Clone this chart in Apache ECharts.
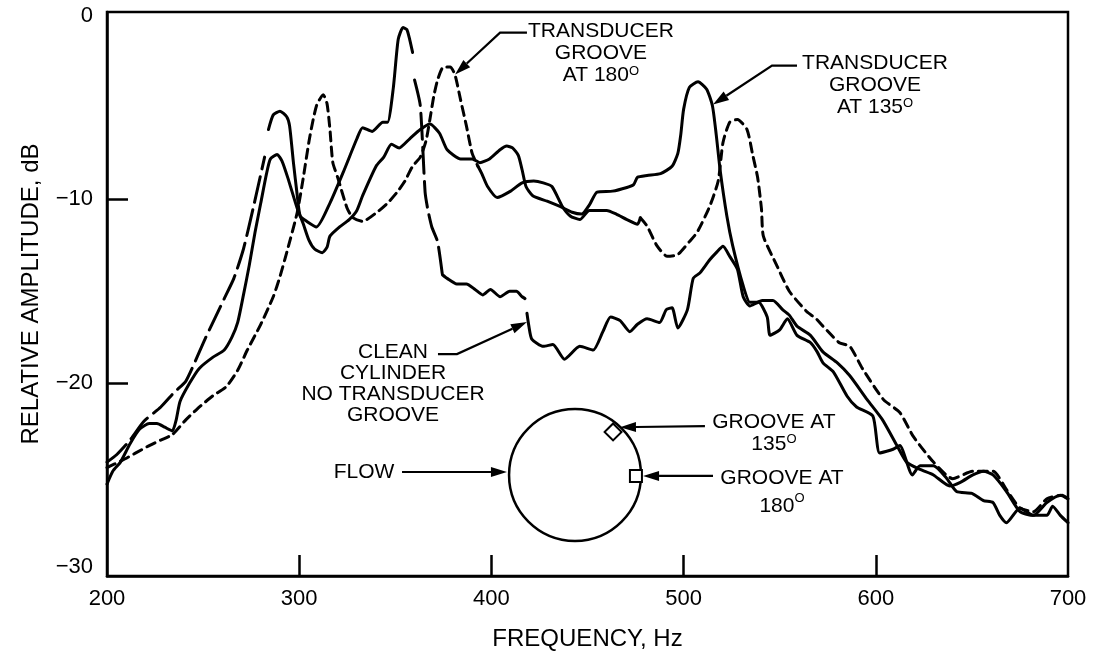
<!DOCTYPE html>
<html><head><meta charset="utf-8">
<script src="https://cdn.jsdelivr.net/npm/echarts@6/dist/echarts.min.js"></script>
<style>html,body{margin:0;padding:0;background:#fff}#c{width:1099px;height:656px}</style>
</head><body><div id="c"></div>
<script>
// ---------------- data ----------------
const xTickLabels = [200, 300, 400, 500, 600, 700];
const yTickLabels = [-30, -20, -10, 0];

// Clean cylinder, no transducer groove
const cleanFreq = [200,205,212,219,228,235,241,251,261,266,271,276,282,284,286.5,290,293.5,295,297,299,300.5,304,309,316,323,330,333,338,343.5,346,349,351.5,354,356,357.5,359,360,363,365.5,367,369,372,374.5,377,382,387,391.5,395.5,399.5,404.5,409.5,413,416,417.5,418.5,419.5,421,427,432,438,446,453,458,462,467,472,476,481,487.5,491,494,497,502,505,508.5,513.5,517,520.5,524,528,531,534.5,539,543.5,545,550,554,559,566,569.5,572.5,578,585,590,598.5,602,609,612.5,619,623,630,637,642,650,656,661,664.5,668,675,682,689,696,700];
const cleanDb   = [-24.3,-23.9,-23.1,-22.1,-21.3,-20.5,-19.9,-17.6,-15.4,-14.3,-12.7,-10.5,-7.7,-6.2,-5.4,-5.2,-5.5,-6.0,-8.0,-9.8,-10.9,-11.2,-11.5,-10.2,-8.5,-6.7,-6.1,-6.3,-5.8,-5.8,-3.9,-1.3,-0.65,-0.75,-1.3,-2.0,-3.5,-4.9,-9.6,-10.6,-11.5,-12.3,-14.1,-14.3,-14.6,-14.6,-14.9,-15.2,-14.9,-15.3,-15.0,-15.0,-15.3,-15.4,-16.2,-16.9,-17.6,-18.0,-17.9,-18.7,-18.0,-18.2,-17.2,-16.4,-16.6,-17.2,-16.8,-16.5,-16.7,-16.0,-15.9,-17.0,-16.0,-14.3,-14.0,-13.3,-12.9,-12.55,-13.1,-13.8,-15.3,-15.8,-15.6,-16.4,-17.4,-17.1,-16.5,-17.4,-17.8,-18.3,-18.9,-19.4,-20.7,-21.3,-21.8,-23.8,-23.6,-23.4,-25.0,-24.5,-24.5,-25.2,-25.9,-26.0,-26.4,-26.5,-27.2,-27.6,-26.8,-27.2,-26.5,-26.1,-26.3];

// Transducer groove at 135 deg (solid)
const g135Freq = [200,203,207,212,217,222,226,230,234,236,238,243,248,255,261,265,268,271,274,277,280,283,285,288.5,291,294,299,302,305,308,312,314.5,316,321,326,330,333,340,344,348,352,357.5,363,368,373,377,384,390,394,399,404.5,408,411,414,416,418,421.5,429,436,442,447,451,455,463,470.5,474,476,481,488,494,497,498.5,500,503,507.5,512,515,517,519,522.5,525.5,531,534.5,538,541,546.5,551.5,555,559,566,572.5,580,586.5,595.5,603.5,611,616,623,630,638.5,644,650.5,656,661,668,675,682,689,692,696,700];
const g135Db   = [-25.5,-24.8,-24.3,-23.3,-22.5,-22.2,-22.2,-22.4,-22.6,-22.0,-21.0,-20.0,-19.2,-18.6,-18.2,-17.5,-16.7,-15.2,-13.6,-11.8,-10.2,-8.6,-7.8,-7.55,-7.9,-8.8,-10.5,-11.3,-12.2,-12.7,-12.9,-12.6,-12.0,-11.5,-11.1,-10.6,-9.8,-8.2,-7.7,-7.0,-7.2,-6.7,-6.2,-5.9,-6.4,-7.3,-7.8,-7.8,-8.0,-7.8,-7.3,-7.1,-7.2,-7.6,-8.4,-9.3,-9.8,-10.1,-10.4,-10.7,-10.8,-10.3,-9.6,-9.55,-9.35,-9.2,-8.8,-8.7,-8.6,-8.2,-7.5,-6.5,-5.1,-3.9,-3.6,-4.0,-4.9,-6.5,-8.4,-10.9,-12.5,-14.7,-15.6,-15.6,-15.5,-15.5,-16.0,-16.3,-16.9,-17.4,-18.3,-18.9,-19.6,-20.9,-22.0,-23.4,-24.3,-24.7,-25.0,-25.6,-25.4,-25.0,-24.8,-25.0,-25.9,-27.0,-27.2,-27.2,-26.7,-27.2,-27.6];

// Transducer groove at 180 deg (short dash)
const g180Freq = [200,204,208,215,222,228,234,241,247,255,262,268,273,280,286.5,290,293.5,299,302,305.5,309,312.5,314.5,316,317.5,320,325,328,333,340.5,346,351,355,359,363,366,368,370,372,375,378.5,381,384,387,390,393,395,398,403,410,416,422,427,431.5,437,441,446,451,460,465,470.5,476,477.5,481,486,491.5,497,503,507,513.5,518,520.5,524,528,533,536,538.5,540.5,541.5,548.5,555,564,569,572.5,581,586.5,593,604,612.5,619.5,630,640,650.5,661,668,675,682,689,697,700];
const g180Db   = [-24.6,-24.4,-24.2,-23.8,-23.4,-23.1,-22.8,-22.0,-21.4,-20.7,-20.2,-19.3,-18.2,-16.8,-15.3,-14.2,-12.9,-10.7,-8.9,-6.6,-4.9,-4.3,-4.8,-6.2,-8.0,-8.8,-10.5,-11.0,-11.2,-10.7,-10.2,-9.6,-9.0,-8.2,-7.7,-6.8,-5.65,-4.4,-3.5,-2.8,-2.8,-3.2,-4.6,-6.0,-7.5,-8.2,-8.6,-9.3,-9.9,-9.55,-9.1,-9.0,-9.1,-9.3,-10.4,-10.9,-11.1,-10.6,-10.6,-10.8,-11.1,-11.35,-11.0,-11.45,-12.5,-13.1,-13.0,-12.3,-11.8,-10.4,-9.0,-6.9,-5.8,-5.65,-6.2,-7.6,-8.8,-10.5,-12.0,-13.6,-15.0,-16.1,-16.5,-16.9,-17.8,-18.0,-19.2,-20.9,-21.6,-22.9,-24.3,-25.2,-24.8,-24.8,-25.8,-26.8,-27.0,-26.3,-26.1,-26.3];

// ---------------- chart ----------------
const FONT = '"Liberation Sans", Arial, Helvetica, sans-serif';
const LONG = [26, 8], SHORT = [9, 6];
const curves = [
  {f: cleanFreq, d: cleanDb, parts: [[200,283,LONG],[283,359.5,'solid'],[359.5,374.5,LONG],[374.5,417.5,'solid'],[418.5,700,'solid']]},
  {f: g135Freq, d: g135Db, parts: [[200,700,'solid']]},
  {f: g180Freq, d: g180Db, parts: [[200,393,SHORT],[393,477.5,'solid'],[477.5,700,SHORT]]}
];
const series = [];
curves.forEach(c => {
  const pts = c.f.map((x, i) => [x, c.d[i]]);
  c.parts.forEach(([a, b, t]) => {
    series.push({
      type: 'line', data: pts.filter(p => p[0] >= a && p[0] <= b),
      showSymbol: false, smooth: 0.2, silent: true,
      lineStyle: {color: '#000', width: 3, type: t, cap: 'round', join: 'round'}
    });
  });
});

const chart = echarts.init(document.getElementById('c'));
const axisText = {color: '#000', fontSize: 22, fontFamily: FONT};
chart.setOption({
  animation: false,
  backgroundColor: '#fff',
  grid: {left: 107, right: 31, top: 12, bottom: 79, show: true, borderColor: '#000', borderWidth: 2.5},
  xAxis: {
    type: 'value', min: 200, max: 700,
    axisLine: {show: true, onZero: false, lineStyle: {color: '#000', width: 2.5}},
    axisTick: {show: true, inside: true, length: 21, customValues: [300, 400, 500, 600], lineStyle: {color: '#000', width: 2.5}},
    axisLabel: Object.assign({customValues: xTickLabels, margin: 12, showMinLabel: true, showMaxLabel: true}, axisText),
    splitLine: {show: false},
    name: 'FREQUENCY, Hz', nameLocation: 'middle', nameGap: 51,
    nameTextStyle: {color: '#000', fontSize: 24, fontFamily: FONT}
  },
  yAxis: {
    type: 'value', min: -30.5, max: 0.2,
    axisLine: {show: true, onZero: false, lineStyle: {color: '#000', width: 2.5}},
    axisTick: {show: true, inside: true, length: 21, customValues: [-20, -10], lineStyle: {color: '#000', width: 2.5}},
    axisLabel: Object.assign({customValues: yTickLabels, margin: 14, showMinLabel: true, showMaxLabel: true,
      formatter: v => String(v).replace('-', '\u2212')}, axisText),
    splitLine: {show: false},
    name: 'RELATIVE AMPLITUDE, dB', nameLocation: 'middle', nameGap: 64, nameRotate: 90,
    nameTextStyle: {color: '#000', fontSize: 24, fontFamily: FONT}
  },
  series: series
});

// ---------------- annotations (placed in data coordinates) ----------------
const P = (f, d) => chart.convertToPixel({xAxisIndex: 0, yAxisIndex: 0}, [f, d]);
const labels = [
  {at: [457.0, -2.07], text: 'TRANSDUCER\nGROOVE\nAT 180{s|O}', lh: 22},
  {at: [599.6, -3.8], text: 'TRANSDUCER\nGROOVE\nAT 135{s|O}', lh: 22},
  {at: [348.8, -20.03], text: 'CLEAN\nCYLINDER\nNO TRANSDUCER\nGROOVE', lh: 21},
  {at: [333.7, -24.84], text: 'FLOW', lh: 22},
  {at: [547.0, -22.7], text: 'GROOVE AT\n135{s|O}', lh: 22},
  {at: [551.2, -25.95], text: 'GROOVE AT\n180{s|O}', lh: 28}
];
const arrows = [
  [[418.5, -0.92], [404.5, -0.92], [381.1, -3.2]],
  [[559.0, -2.72], [546.0, -2.72], [515.3, -4.84]],
  [[372.2, -18.42], [382.1, -18.42], [418.5, -16.68]],
  [[353.5, -24.84], [408.1, -24.84]],
  [[511.1, -22.34], [466.9, -22.4]],
  [[515.3, -25.05], [478.9, -25.05]]
];
const g = [];
labels.forEach(l => {
  const p = P(l.at[0], l.at[1]);
  g.push({type: 'text', x: p[0], y: p[1], silent: true, z: 100,
    style: {text: l.text, fill: '#000', fontSize: 21, fontFamily: FONT, align: 'center', verticalAlign: 'middle', lineHeight: l.lh,
      rich: {s: {fontSize: 13, fontFamily: FONT, fill: '#000', verticalAlign: 'top', lineHeight: l.lh}}}});
});
arrows.forEach(a => {
  const pts = a.map(q => P(q[0], q[1]));
  const n = pts.length;
  const [x1, y1] = pts[n - 2], [x2, y2] = pts[n - 1];
  const ang = Math.atan2(y2 - y1, x2 - x1);
  const L = 16, W = 5;
  const bx = x2 - L * Math.cos(ang), by = y2 - L * Math.sin(ang);
  const line = pts.slice(0, n - 1).concat([[bx, by]]);
  g.push({type: 'polyline', shape: {points: line}, style: {stroke: '#000', lineWidth: 2.2, fill: null}, silent: true, z: 100});
  g.push({type: 'polygon', shape: {points: [[x2, y2],
    [bx + W * Math.sin(ang), by - W * Math.cos(ang)],
    [bx - W * Math.sin(ang), by + W * Math.cos(ang)]]}, style: {fill: '#000'}, silent: true, z: 100});
});
// inset cylinder diagram
const c0 = P(443.5, -25.0), cTop = P(443.5, -25.0 + 3.59);
const r = c0[1] - cTop[1];
g.push({type: 'circle', shape: {cx: c0[0], cy: c0[1], r: r}, style: {fill: null, stroke: '#000', lineWidth: 2.5}, silent: true, z: 100});
const dm = P(463.3, -22.66);
g.push({type: 'rect', x: dm[0], y: dm[1], rotation: Math.PI / 4, shape: {x: -6, y: -6, width: 12, height: 12}, style: {fill: '#fff', stroke: '#000', lineWidth: 2}, silent: true, z: 101});
const sq = P(475.2, -25.05);
g.push({type: 'rect', x: sq[0], y: sq[1], shape: {x: -6, y: -6, width: 12, height: 12}, style: {fill: '#fff', stroke: '#000', lineWidth: 2}, silent: true, z: 101});
chart.setOption({graphic: {elements: g}});
</script>
</body></html>
